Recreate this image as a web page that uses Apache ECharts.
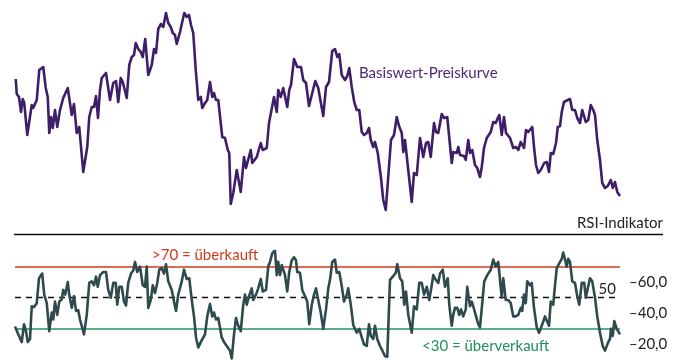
<!DOCTYPE html>
<html>
<head>
<meta charset="utf-8">
<script src="https://cdn.jsdelivr.net/npm/echarts@6/dist/echarts.min.js"></script>
<style>html,body{margin:0;padding:0;background:#fff}#c{width:678px;height:360px}</style>
</head>
<body>
<div id="c"></div>
<script>
// Trading day index and price of the underlying
const priceSeries = [
[0.3,90.5],[0.7,83],[1.6,81.5],[2.4,74],[3.1,80.5],[3.7,78.5],[4.9,62.5],[5.7,63.5],[6.7,77.5],[7.3,76],
[8.7,80],[9.7,95],[11.3,96.5],[12.3,86],[13.1,81.5],[13.7,63.5],[14.4,71.5],[15.1,66],[16,75],[16.9,66.5],
[18,75],[19.3,81],[20.1,80],[21.1,86],[22.7,72.5],[23.6,78],[24.7,63.5],[25.7,66.5],[27.3,44],[28.9,56.5],
[29.7,71.5],[30.7,76.5],[31.6,76.5],[32.4,82],[33.2,71],[34,85],[34.7,91],[36.4,93.5],[38,80],[39.3,88.5],
[40.4,89.5],[41.3,79],[42.3,91],[43.1,89],[44.7,81],[45.7,97.5],[46.7,101.5],[47.6,102.5],[48.3,108.5],[49.3,105.5],
[50.3,104],[51.1,101.5],[52.1,110.5],[53.3,92.5],[54.7,97.5],[55.6,105.5],[56.4,103.5],[57.3,115.5],[58.4,118],[59.3,116.5],
[60.4,123.5],[61.3,118.5],[62.3,116.5],[63.1,113.5],[64,112.5],[64.7,108],[66,114],[67.7,123.5],[68.7,121.5],[69.6,122.5],
[70.4,117.5],[71.3,113.5],[72.3,95],[73.3,80],[74.3,81.5],[74.9,76],[76,78.5],[76.9,80],[78,89],[78.9,81.5],
[79.6,83.5],[80.4,80],[81.3,80],[82.9,61.5],[84,61],[85.1,55],[85.7,53.5],[86.3,28],[87.3,33.5],[88.7,45],
[90.3,34],[91.6,51.5],[92.4,46],[94.3,55],[94.9,48.5],[96.7,51.5],[98.3,58.5],[99.1,55],[100.7,56],[101.6,68.5],
[102.3,69],[103.6,81.5],[104.7,74],[105.3,85],[106.3,81.5],[107.3,86],[108.9,76.5],[109.7,85],[110.4,87.5],[111.6,100.5],
[112.4,99.5],[112.9,96.5],[114.4,96.5],[115.3,90],[116.4,88.5],[117.6,77],[118.7,82.5],[119.3,82.5],[120.1,89.5],[121.3,86],
[122,81],[123.3,72],[124.4,86.5],[125.6,89],[126.9,104.5],[128,105.5],[128.9,101.5],[129.7,103],[130.7,92.5],[132,90],
[132.9,92],[133.7,96],[134.7,86.5],[135.7,79],[136.7,75],[137.7,75],[138.7,64],[139.6,62.5],[140.7,63.5],[141.6,66],
[142.3,60],[143.3,56.5],[144,59],[145.1,53.5],[146.4,41],[147.3,30],[148.3,25],[149.1,26],[150.4,60],[151.6,62.5],
[152.7,71.5],[153.6,67],[154.7,63.5],[155.3,54],[156,60],[157.3,45],[158,46],[158.7,29],[159.6,43.5],[160.7,42.5],
[162,61],[162.7,60],[163.3,51.5],[164.4,58.5],[165.3,59],[166.3,51.5],[167.6,68.5],[168.4,64],[169.3,63.5],[170.7,73],
[171.6,71],[172.9,71.5],[174.7,48.5],[175.3,54],[176,55],[176.7,53.5],[177.3,56.5],[178,52.5],[178.7,53.5],[179.6,52],
[180.3,50],[181.3,60],[182,53.5],[182.9,55],[184,47.5],[184.9,46],[186,41.5],[186.7,46.5],[187.6,56],[188.7,61],
[190.3,64],[191.3,69],[192.3,68.5],[193.1,71],[193.7,72.5],[194.7,62.5],[195.6,71.5],[196.4,63.5],[198,61],[199.3,56],
[200.4,56.5],[201.3,55],[202.3,59],[202.9,60],[203.6,56],[204.4,65],[205.3,64],[206,64.5],[206.9,66.5],[207.6,56.5],
[208.4,47.5],[209.3,43.5],[210.3,45],[211.7,48.5],[212.7,49],[213.6,44],[214.3,53.5],[215.3,53],[216.4,58.5],[217.1,66.5],
[218,67],[218.7,74],[219.6,79],[220.4,78.5],[221.1,80],[222,80.5],[222.9,75],[224,75],[224.9,71],[226,68.5],
[226.9,75],[227.7,75],[228.3,69],[229.3,70],[230.3,77.5],[231.3,75],[232,72.5],[232.9,60],[234,50],[234.9,38.5],
[236,36],[237.1,37],[238.3,40],[239.1,36],[240,39],[240.9,34],[242,32]
];
// Trading day index and RSI value
const rsiSeries = [
[0,31.5],[1.3,26.5],[2.7,21.5],[3.6,33],[4.4,28.5],[5.1,21.5],[6,23.5],[6.7,44.5],[7.6,44],[8.7,46.5],
[9.6,62.5],[10.9,65.5],[11.7,52],[12.7,46.5],[13.7,28.5],[14.7,40.5],[15.3,36],[16,47.5],[16.9,39],[17.7,47.5],
[18.7,49],[19.3,55],[20.1,52],[21.1,60],[21.7,52],[22.7,43.5],[23.6,51],[24.4,41.5],[25.3,42],[26,36],
[26.7,37],[27.6,26.5],[28.7,39],[29.7,59.5],[30.7,60.5],[31.6,58],[32.4,63.5],[33.1,57],[34,64.5],[35.3,66.5],
[36.4,66.5],[37.3,55],[38.3,50],[39.3,59.5],[40.3,59.5],[40.9,45.5],[41.7,57],[42.7,57],[43.6,47.5],[44.4,45],
[45.3,59.5],[46.4,65.5],[47.3,67.5],[48,73],[48.9,66.5],[50,70],[51.1,58],[52,57],[52.7,70],[53.3,43.5],
[54.3,48.5],[55.1,58],[56,53],[56.9,59.5],[57.7,68],[58.7,69],[59.6,65.5],[60.4,71.5],[61.3,60.5],[62.7,55],
[63.6,47.5],[64.4,41.5],[65.3,52],[66.7,60.5],[67.6,68],[68.7,62],[69.7,62.5],[70.7,48.5],[71.6,38],[72.4,24.5],
[73.3,18],[74.3,21.5],[74.9,20.5],[76,26.5],[76.9,38],[78,46],[78.9,38],[79.6,40.5],[80.4,36],[81.3,37],
[82.7,24.5],[83.6,21.5],[84.7,19],[86,16],[86.7,11],[87.6,26.5],[88.4,37],[89.3,32],[90.3,28.5],[91.3,45.5],
[92,52],[92.7,45.5],[93.7,51.5],[94.7,56],[95.3,48.5],[96.4,52],[97.3,56],[98.3,62],[99.1,54],[100.4,55],
[101.3,70],[102,73],[102.9,78.5],[104,80.5],[104.7,64.5],[105.3,73],[106,64.5],[106.7,71],[108,64.5],[108.9,54],
[109.7,66.5],[110.7,74],[111.6,76],[112.4,74],[112.9,66.5],[114,66],[114.9,55],[116,51],[116.9,47.5],[117.7,33],
[118.7,45.5],[119.6,52],[120.4,56],[121.3,48.5],[122.3,40.5],[123.3,30],[124.4,42.5],[125.3,56],[126,61.5],[126.9,73],
[128,74.5],[128.7,66],[129.7,66.5],[130.7,57.5],[131.6,47.5],[132.7,52],[133.3,56],[134.4,44.5],[135.3,32.5],[136.7,27.5],
[137.7,30],[138.7,24.5],[139.6,20],[140.7,19],[141.6,33],[142.3,25.5],[143.3,23.5],[144,32],[144.9,23.5],[146,19],
[147.1,15.5],[148,12.5],[148.9,12],[150,61.5],[151.1,63.5],[152.3,66],[152.9,71.5],[154,62.5],[154.9,60.5],[155.7,45.5],
[156.4,54],[157.3,39],[158,38],[158.7,27.5],[159.6,44.5],[160.7,42.5],[161.7,59.5],[162.7,59.5],[163.6,52],[164.7,57],
[165.7,48.5],[166.7,58],[167.3,64.5],[168.3,61.5],[169.3,59.5],[170,65.5],[171.1,68],[172,57],[173.1,62.5],[173.7,45.5],
[174.7,32],[175.3,39],[176,43.5],[176.9,43.5],[177.7,39],[178.4,42.5],[179.3,38],[180.3,42.5],[180.9,57],[182,44.5],
[182.7,47.5],[183.3,44.5],[184.4,38],[185.3,33],[186,31],[186.9,46.5],[187.7,60.5],[188.9,64.5],[190.3,68],[191.3,74.5],
[192.3,70],[193.3,73],[194,74],[194.7,50],[195.3,62.5],[196.3,48.5],[197.3,48.5],[198.3,46.5],[199.3,38],[200.3,38],
[201.3,39],[202.3,43.5],[202.9,41.5],[203.6,52],[204.3,46.5],[204.9,60.5],[206,58],[206.7,59.5],[207.6,43.5],[208.7,31],
[209.6,27.5],[210.7,32],[212,38],[212.7,39],[213.6,32],[214.3,47.5],[215.3,45.5],[216,58],[216.7,69],[217.7,72],
[218.7,75],[219.3,79],[220,79.5],[220.7,70],[221.3,75],[222,73],[222.9,60.5],[224,59.5],[224.9,51],[225.7,45.5],
[226.7,59.5],[227.7,59.5],[228.3,50],[229.1,50],[230,62.5],[230.9,60.5],[232,50],[232.9,38],[234,27.5],[235.1,19],
[236,16],[237.3,21.5],[238,23.5],[238.4,30],[239.1,25.5],[239.7,35],[240.7,30],[242,26.5]
];
const rsiLevels = { overbought: 70, neutral: 50, oversold: 30 };
const rsiTicks = [20, 40, 60];
const labels = {
  price: 'Basiswert-Preiskurve',
  rsi: 'RSI-Indikator',
  overbought: '>70 = überkauft',
  oversold: '<30 = überverkauft',
  neutral: '50'
};

const FONT = 'Lato, "Noto Sans", sans-serif';
const chart = echarts.init(document.getElementById('c'), null, { renderer: 'canvas' });
chart.setOption({
  animation: false,
  backgroundColor: '#ffffff',
  grid: [
    { left: 15, width: 605, top: 0, height: 220 },
    { left: 15, width: 605, top: 251, height: 109 }
  ],
  xAxis: [
    { type: 'value', gridIndex: 0, min: 0, max: 242, show: false },
    { type: 'value', gridIndex: 1, min: 0, max: 242, show: false }
  ],
  yAxis: [
    { type: 'value', gridIndex: 0, min: 20, max: 130, show: false },
    {
      type: 'value', gridIndex: 1, min: 10, max: 80, interval: 10, position: 'right',
      axisLine: { show: false }, axisTick: { show: false }, splitLine: { show: false },
      axisLabel: {
        margin: 9, color: '#222', fontSize: 15, fontFamily: FONT,
        formatter: v => rsiTicks.includes(v) ? '\u2013' + v.toFixed(1).replace('.', ',') : ''
      }
    }
  ],
  series: [
    {
      type: 'line', xAxisIndex: 0, yAxisIndex: 0, data: priceSeries, showSymbol: false,
      lineStyle: { color: '#3e1e68', width: 2.6, join: 'round' }
    },
    {
      type: 'line', xAxisIndex: 1, yAxisIndex: 1, data: rsiSeries, showSymbol: false,
      lineStyle: { color: '#2e4a4c', width: 2.6, join: 'round' }, z: 5,
      markLine: {
        silent: true, symbol: 'none', label: { show: false },
        data: [
          { yAxis: rsiLevels.overbought, lineStyle: { color: '#d2381c', width: 1.5, type: 'solid' } },
          { yAxis: rsiLevels.neutral, lineStyle: { color: '#111', width: 1.3, type: [6, 5] } },
          { yAxis: rsiLevels.oversold, lineStyle: { color: '#1f9463', width: 1.5, type: 'solid' } }
        ]
      }
    }
  ],
  graphic: [
    { type: 'line', shape: { x1: 14, y1: 234.5, x2: 663, y2: 234.5 }, style: { stroke: '#111', lineWidth: 1.6 } },
    { type: 'text', x: 663, y: 223, style: { text: labels.rsi, align: 'right', verticalAlign: 'middle', fill: '#222', font: '15px ' + FONT } },
    { type: 'text', x: 359, y: 73, style: { text: labels.price, align: 'left', verticalAlign: 'middle', fill: '#4a2a78', font: '15px ' + FONT } },
    { type: 'text', x: 152, y: 255, style: { text: labels.overbought, align: 'left', verticalAlign: 'middle', fill: '#d2381c', font: '15px ' + FONT } },
    { type: 'text', x: 422, y: 346, style: { text: labels.oversold, align: 'left', verticalAlign: 'middle', fill: '#1f8f5c', font: '15px ' + FONT } },
    { type: 'text', x: 616, y: 289, style: { text: labels.neutral, align: 'right', verticalAlign: 'middle', fill: '#222', font: '15px ' + FONT } }
  ]
});
</script>
</body>
</html>
